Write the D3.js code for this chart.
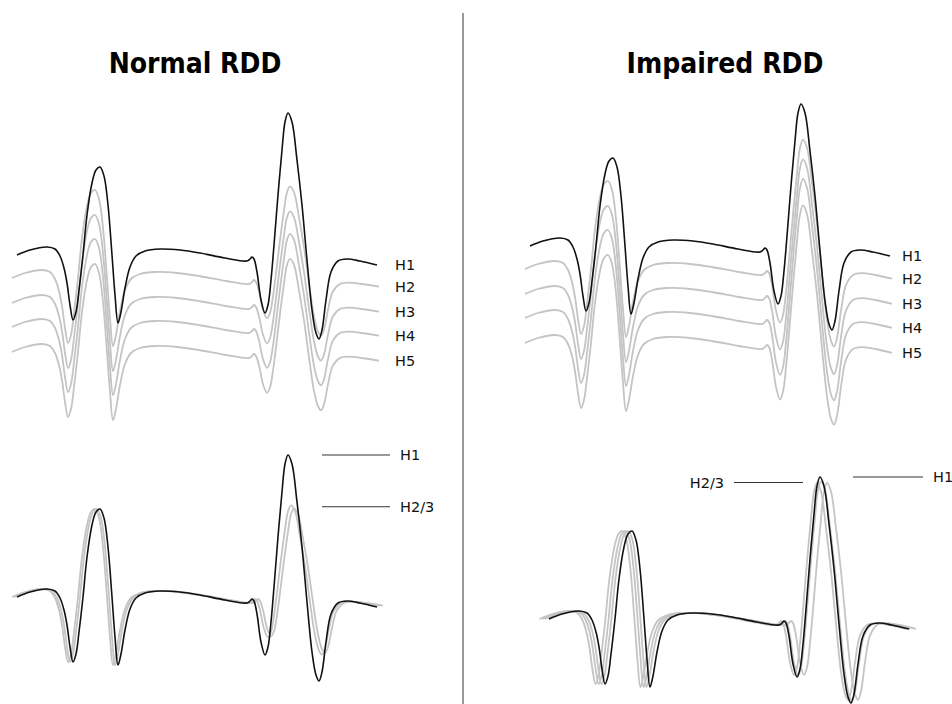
<!DOCTYPE html>
<html>
<head>
<meta charset="utf-8">
<script src="https://cdn.jsdelivr.net/npm/d3@7"></script>
<style>
  body { margin: 0; background: #fff; }
  svg { display: block; }
</style>
</head>
<body>
<svg id="chart"></svg>
<script>
const width = 952;
const height = 704;

// template H-reflex sweep (time in ms, amplitude in mV)
const templateT = [0, 3.25, 7.5, 9.5, 10.75, 11.75, 12.5, 13.25, 14, 14.75, 15.5, 16.5, 17.5, 18.75, 19.75, 20.75,
    21.75, 22.75, 23.75, 24.5, 25.25, 26, 27, 28.25, 29.75, 32, 35.75, 40.75, 45.75, 52, 57.5, 58.25, 58.75, 59.25,
    60, 61, 62, 62.75, 63.5, 64.25, 65.25, 66.25, 67, 67.75, 68.75, 70, 71.25, 72.5, 73.75, 74.75, 75.5, 76.25,
    77.25, 78.5, 80.25, 82.5, 85.75, 90];
const templateV = [0, 0.25, 0.4, 0.3, -0.05, -0.65, -1.4, -2.5, -3.25, -2.85, -1.75, 0, 2, 3.6, 4.25, 4.4,
    3.95, 2.5, 0, -2, -3.4, -2.85, -1.65, -0.6, -0.05, 0.2, 0.3, 0.25, 0.1, -0.15, -0.3, -0.2, -0.1, -0.2,
    -0.85, -2.25, -2.9, -2.5, -1.25, 0.5, 3, 5.25, 6.65, 7.1, 6.65, 4.75, 2.5, -0.25, -2.75, -3.9, -4.2, -3.75,
    -2.25, -0.85, -0.3, -0.2, -0.3, -0.5];

const hStart = 59.5;   // H-wave window begins after the stimulus artefact
const hBase = -0.3;

// stacked sweeps (top row)
const stackNames = ['H1', 'H2', 'H3', 'H4', 'H5'];
const stackOffsets = [0, -1.15, -2.4, -3.6, -4.85];
const stackMShift = [0, -1.25, -1.25, -1.25, -1.25];
const stackHShift = [0, 0.5, 0.5, 0.5, 0.5];
const normalStackScale = [1, 0.66, 0.66, 0.67, 0.67];
const impairedStackScale = [1, 0.915, 0.95, 0.98, 0.97];

// overlaid sweeps (bottom row)
const normalOverlayNames = ['H1', 'H2', 'H3'];
const normalOverlayMShift = [0, -1.25, -0.75];
const normalOverlayHShift = [0, 0.75, 1.5];
const normalOverlayScale = [1, 0.66, 0.64];

const impairedOverlayNames = ['H1', 'H2', 'H3', 'H4'];
const impairedOverlayMShift = [0, -2.4, -1.6, -0.9];
const impairedOverlayHShift = [0, 1.75, -0.75, 0.25];
const impairedOverlayScale = [1, 0.96, 0.96, 0.97];

const svg = d3.select('#chart')
    .attr('width', width)
    .attr('height', height);

const titleFont = '"DejaVu Sans Condensed", "DejaVu Sans", Verdana, sans-serif';
const labelFont = '"DejaVu Sans", Verdana, sans-serif';

function shiftAt(t, m, h) {
    if (t <= 35) return m;
    if (t >= 55) return h;
    return m + (h - m) * (t - 35) / 20;
}

function buildTrace(mShift, hShift, hScale, offset) {
    return templateT.map((t, i) => {
        let v = templateV[i];
        if (t >= hStart) v = hBase + hScale * (v - hBase);
        return { t: t + shiftAt(t, mShift, hShift), v: v + offset };
    });
}

function makePanel(x0, base) {
    return {
        x: d3.scaleLinear().domain([0, 90]).range([x0, x0 + 360]),
        y: d3.scaleLinear().domain([-10, 10]).range([base + 200, base - 200]),
    };
}

function drawTraces(panel, traces) {
    const line = d3.line()
        .x(d => panel.x(d.t))
        .y(d => panel.y(d.v))
        .curve(d3.curveCatmullRom.alpha(0.5));
    const g = svg.append('g');
    // grey sweeps first, black H1 on top
    traces.slice().reverse().forEach(tr => {
        g.append('path')
            .datum(tr.points)
            .attr('d', line)
            .attr('fill', 'none')
            .attr('stroke', tr.black ? '#111' : '#c4c4c4')
            .attr('stroke-width', tr.black ? 1.6 : 1.8)
            .attr('stroke-linejoin', 'round');
    });
}

function label(x, y, txt, anchor) {
    svg.append('text')
        .text(txt)
        .attr('x', x)
        .attr('y', y)
        .attr('dy', '0.35em')
        .attr('text-anchor', anchor || 'start')
        .style('font-family', labelFont)
        .style('font-size', '14.5px')
        .style('fill', '#111');
}

function drawStack(x0, base, scales, labelX) {
    const panel = makePanel(x0, base);
    const traces = stackNames.map((name, i) => ({
        name: name,
        black: i === 0,
        points: buildTrace(stackMShift[i], stackHShift[i], scales[i], stackOffsets[i]),
    }));
    drawTraces(panel, traces);
    traces.forEach(tr => {
        const last = tr.points[tr.points.length - 1];
        label(labelX, panel.y(last.v), tr.name);
    });
}

function drawOverlay(x0, base, names, mShift, hShift, scales) {
    const panel = makePanel(x0, base);
    const traces = names.map((name, i) => ({
        name: name,
        black: i === 0,
        points: buildTrace(mShift[i], hShift[i], scales[i], 0),
    }));
    drawTraces(panel, traces);
    const peaks = traces.map(tr => d3.max(tr.points, d => d.v));
    return {
        panel: panel,
        h1: panel.y(peaks[0]),
        h23: panel.y(d3.mean(peaks.slice(1))),
    };
}

function refLine(x1, x2, y) {
    svg.append('line')
        .attr('x1', x1).attr('x2', x2)
        .attr('y1', y).attr('y2', y)
        .attr('stroke', '#333')
        .attr('stroke-width', 1.1);
}

// titles
svg.append('text')
    .text('Normal RDD')
    .attr('x', 195).attr('y', 73)
    .attr('text-anchor', 'middle')
    .style('font-family', titleFont)
    .style('font-weight', 'bold')
    .style('font-size', '28px')
    .style('fill', '#000');

svg.append('text')
    .text('Impaired RDD')
    .attr('x', 725).attr('y', 73)
    .attr('text-anchor', 'middle')
    .style('font-family', titleFont)
    .style('font-weight', 'bold')
    .style('font-size', '28px')
    .style('fill', '#000');

// divider
svg.append('line')
    .attr('x1', 463).attr('x2', 463)
    .attr('y1', 13).attr('y2', height)
    .attr('stroke', '#777')
    .attr('stroke-width', 1.5);

// top row: stacked sweeps
drawStack(17, 255, normalStackScale, 395);
drawStack(530, 246, impairedStackScale, 902);

// bottom row: overlaid sweeps
const nl = drawOverlay(17, 597, normalOverlayNames, normalOverlayMShift, normalOverlayHShift, normalOverlayScale);
refLine(322, 390, nl.h1);
label(400, nl.h1, 'H1');
refLine(322, 390, nl.h23);
label(400, nl.h23, 'H2/3');

const il = drawOverlay(549, 619, impairedOverlayNames, impairedOverlayMShift, impairedOverlayHShift, impairedOverlayScale);
refLine(853, 923, il.h1);
label(933, il.h1, 'H1');
refLine(734, 803, il.h23);
label(724, il.h23, 'H2/3', 'end');
</script>
</body>
</html>
